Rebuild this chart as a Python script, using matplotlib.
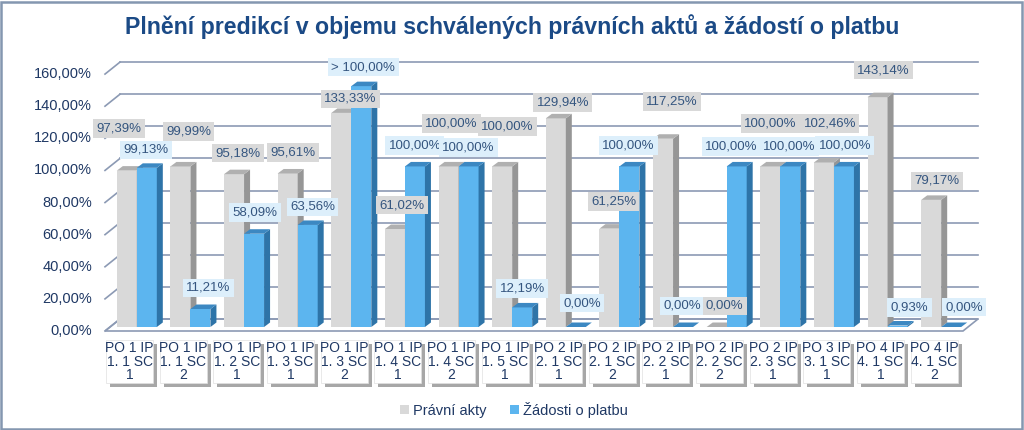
import numpy as np
import matplotlib
matplotlib.use('Agg')
import matplotlib.pyplot as plt
import matplotlib.transforms as mtransforms
from matplotlib.patches import Rectangle, Polygon, Patch

plt.rcParams['font.family'] = ['Liberation Sans', 'DejaVu Sans']

# Data
categories = ['PO 1 IP\n1. 1 SC\n1', 'PO 1 IP\n1. 1 SC\n2', 'PO 1 IP\n1. 2 SC\n1', 'PO 1 IP\n1. 3 SC\n1',
              'PO 1 IP\n1. 3 SC\n2', 'PO 1 IP\n1. 4 SC\n1', 'PO 1 IP\n1. 4 SC\n2', 'PO 1 IP\n1. 5 SC\n1',
              'PO 2 IP\n2. 1 SC\n1', 'PO 2 IP\n2. 1 SC\n2', 'PO 2 IP\n2. 2 SC\n1', 'PO 2 IP\n2. 2 SC\n2',
              'PO 2 IP\n2. 3 SC\n1', 'PO 3 IP\n3. 1 SC\n1', 'PO 4 IP\n4. 1 SC\n1', 'PO 4 IP\n4. 1 SC\n2']
pravniAkty = [97.39, 99.99, 95.18, 95.61, 133.33, 61.02, 100.00, 100.00,
              129.94, 61.25, 117.25, 0.00, 100.00, 102.46, 143.14, 79.17]
# the 5th value is shown capped in the chart (label "> 100,00%")
zadosti = [99.13, 11.21, 58.09, 63.56, 150.00, 100.00, 100.00, 12.19,
           0.00, 100.00, 0.00, 100.00, 100.00, 100.00, 0.93, 0.00]
zadostiLabels = ['99,13%', '11,21%', '58,09%', '63,56%', '> 100,00%', '100,00%', '100,00%', '12,19%',
                 '0,00%', '100,00%', '0,00%', '100,00%', '100,00%', '100,00%', '0,93%', '0,00%']
seriesNames = ['Právní akty', 'Žádosti o platbu']
yTicks = [0, 20, 40, 60, 80, 100, 120, 140, 160]
title = 'Plnění predikcí v objemu schválených právních aktů a žádostí o platbu'

# label offsets from the bar top (pixels), the labels in the original were moved by hand
grayLabelOffsets = [(-8, 42), (8, 35), (4, 21), (5, 21), (9, 14), (7, 24), (3, 43), (5, 40),
                    (7, 16), (4, 27), (9, 37), (8, 21), (0, 43), (6, 39), (6, 27), (6, 19)]
blueLabelOffsets = [(-1, 18), (8, 21), (1, 21), (5, 18), (2, 19), (0, 21), (0, 19), (0, 19),
                    (6, 24), (-1, 21), (-1, 21), (-5, 20), (-1, 20), (1, 21), (12, 18), (13, 20)]

# Colors
navy = '#1F3864'
titleColor = '#1B4A86'
labelColor = '#34557F'
gridColor = '#8C9AB4'
grayFront = '#D9D9D9'; graySide = '#969696'; grayTop = '#B0B0B0'
blueFront = '#5CB5EF'; blueSide = '#2E74A8'; blueTop = '#3C88C2'
grayLabelBg = '#D9D9D9'; blueLabelBg = '#DDEFFB'

W, H = 1024, 430
fig = plt.figure(figsize=(W / 100, H / 100), dpi=100)
fig.patch.set_facecolor('white')

# axes = front plane of the 3D box
axLeft, axRight, axBottom, axTop = 105, 963, 331, 50
ax = fig.add_axes([axLeft / W, (H - axBottom) / H, (axRight - axLeft) / W, (axBottom - axTop) / H])
n = len(categories)
ax.set_xlim(-0.5, n - 0.5)
yMax = 175
ax.set_ylim(0, yMax)
ax.axis('off')

pxX = (axRight - axLeft) / n          # pixels per category
pxY = (axBottom - axTop) / yMax       # pixels per percent

# back wall offset, bar plane offset, bar depth
backDx, backDy = 15 / pxX, 12 / pxY
planeDx, planeDy = 5 / pxX, 4 / pxY
depthDx, depthDy = 6 / pxX, 4.5 / pxY
barW = 20 / pxX

# floor
x0, x1 = -0.5, n - 0.5
floor = Polygon([(x0, 0), (x1, 0), (x1 + backDx, backDy), (x0 + backDx, backDy)],
                closed=True, facecolor='white', edgecolor=gridColor, lw=1.2, clip_on=False, zorder=1)
ax.add_patch(floor)

# gridlines on the back wall + slanted side lines
for v in yTicks:
    ax.plot([x0 + backDx, x1 + backDx], [v + backDy, v + backDy], color=gridColor, lw=1.2,
            clip_on=False, zorder=1)
    ax.plot([x0, x0 + backDx], [v, v + backDy], color=gridColor, lw=1.2, clip_on=False, zorder=1)


def drawBar(xl, value, front, side, top):
    xr = xl + barW
    b = planeDy
    t = planeDy + value
    if value > 0:
        ax.add_patch(Rectangle((xl, b), barW, value, facecolor=front, edgecolor='none',
                               clip_on=False, zorder=3))
        ax.add_patch(Polygon([(xr, b), (xr + depthDx, b + depthDy), (xr + depthDx, t + depthDy), (xr, t)],
                             closed=True, facecolor=side, edgecolor='none', clip_on=False, zorder=3))
    ax.add_patch(Polygon([(xl, t), (xl + depthDx, t + depthDy), (xr + depthDx, t + depthDy), (xr, t)],
                         closed=True, facecolor=top, edgecolor='none', clip_on=False, zorder=3))


idx = np.arange(n)
for i in idx:
    grayX = i - barW + planeDx
    blueX = i + planeDx
    drawBar(grayX, pravniAkty[i], grayFront, graySide, grayTop)
    drawBar(blueX, zadosti[i], blueFront, blueSide, blueTop)


def fmt(v):
    return ('%.2f' % v).replace('.', ',') + '%'


# data labels
for i in idx:
    gx = i - barW / 2 + planeDx
    bx = i + barW / 2 + planeDx
    ox, oy = grayLabelOffsets[i]
    ax.annotate(fmt(pravniAkty[i]), (gx, planeDy + pravniAkty[i]), xytext=(ox, oy),
                textcoords='offset pixels', ha='center', va='center', fontsize=9.5, color=labelColor,
                bbox=dict(boxstyle='square,pad=0.25', facecolor=grayLabelBg, edgecolor='none'),
                annotation_clip=False, zorder=5)
    ox, oy = blueLabelOffsets[i]
    ax.annotate(zadostiLabels[i], (bx, planeDy + zadosti[i]), xytext=(ox, oy),
                textcoords='offset pixels', ha='center', va='center', fontsize=9.5, color=labelColor,
                bbox=dict(boxstyle='square,pad=0.25', facecolor=blueLabelBg, edgecolor='none'),
                annotation_clip=False, zorder=5)

# y tick labels (front plane)
for v in yTicks:
    ax.annotate(fmt(v), (x0, v), xytext=(-13, 0), textcoords='offset pixels', ha='right', va='center',
                fontsize=10.5, color=navy, annotation_clip=False)

# category label boxes with shadow
trans = mtransforms.blended_transform_factory(ax.transData, fig.transFigure)
boxW = 47 / pxX
boxTop, boxBottom = 340, 383
for i in idx:
    bxl = i - boxW / 2 - 0.04
    shadowDx = 4 / pxX
    fig.patches.append(Rectangle((bxl + shadowDx, (H - boxBottom - 4) / H), boxW, (boxBottom - boxTop) / H,
                                 transform=trans, facecolor='#8A8A8A', edgecolor='none', alpha=0.75, zorder=1))
    fig.patches.append(Rectangle((bxl, (H - boxBottom) / H), boxW, (boxBottom - boxTop) / H,
                                 transform=trans, facecolor='white', edgecolor='#E0E0E0', lw=0.5, zorder=2))
    fig.text(i - 0.04, (H - (boxTop + boxBottom) / 2) / H, categories[i], transform=trans,
             ha='center', va='center', fontsize=10, color=navy, linespacing=0.95, zorder=3)

# title
fig.text(0.5, 1 - 27 / H, title, ha='center', va='center', fontsize=16.7, fontweight='bold', color=titleColor)

# legend
handles = [Patch(facecolor=grayFront, edgecolor='none'), Patch(facecolor=blueFront, edgecolor='none')]
fig.legend(handles, seriesNames, loc='center', bbox_to_anchor=(514 / W, 1 - 410 / H), ncol=2,
           frameon=False, fontsize=10.5, handlelength=0.6, handleheight=0.6, handletextpad=0.3,
           columnspacing=1.6, labelcolor=navy)

# outer frame
fig.patches.append(Rectangle((1 / W, 1 / H), 1 - 3 / W, 1 - 3 / H, transform=fig.transFigure,
                             facecolor='none', edgecolor='#8497B0', lw=1.8, zorder=10))

fig.savefig('out.png', dpi=100)
